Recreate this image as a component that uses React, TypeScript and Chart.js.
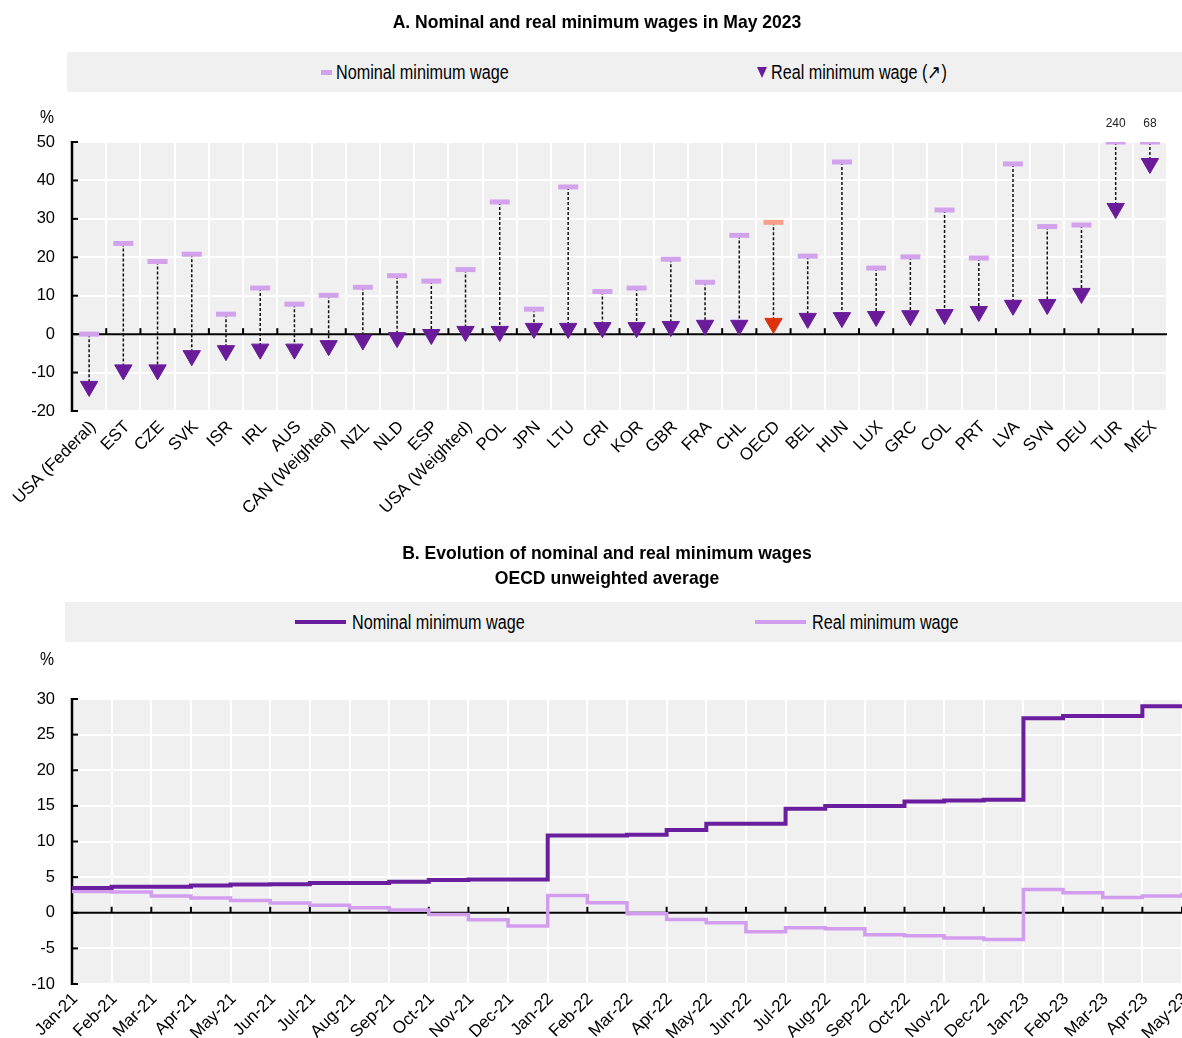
import React, { useEffect, useRef } from "react";
import { Chart, registerables } from "chart.js";
Chart.register(...registerables);

const FONT = "'Liberation Sans', Arial, sans-serif";

// ---------- Panel A data ----------
const countries = ["USA (Federal)", "EST", "CZE", "SVK", "ISR", "IRL", "AUS", "CAN (Weighted)", "NZL", "NLD", "ESP", "USA (Weighted)", "POL", "JPN", "LTU", "CRI", "KOR", "GBR", "FRA", "CHL", "OECD", "BEL", "HUN", "LUX", "GRC", "COL", "PRT", "LVA", "SVN", "DEU", "TUR", "MEX"];
const nominalWage = [0, 23.6, 18.9, 20.8, 5.2, 12.0, 7.8, 10.1, 12.2, 15.2, 13.8, 16.8, 34.4, 6.5, 38.3, 11.1, 12.0, 19.5, 13.5, 25.7, 29.1, 20.3, 44.8, 17.2, 20.1, 32.3, 19.8, 44.3, 28.0, 28.4, 240, 68];
const realWage = [-13.6, -9.3, -9.3, -5.6, -4.3, -3.9, -3.9, -3.0, -1.5, -0.9, -0.1, 0.7, 0.7, 1.5, 1.5, 1.7, 1.7, 2.0, 2.3, 2.3, 2.8, 4.1, 4.3, 4.6, 4.8, 5.1, 5.9, 7.5, 7.7, 10.6, 32.7, 44.4];
const yMinA = -20;
const yMaxA = 50;
const yStepA = 10;

// ---------- Panel B data ----------
const months = ["Jan-21", "Feb-21", "Mar-21", "Apr-21", "May-21", "Jun-21", "Jul-21", "Aug-21", "Sep-21", "Oct-21", "Nov-21", "Dec-21", "Jan-22", "Feb-22", "Mar-22", "Apr-22", "May-22", "Jun-22", "Jul-22", "Aug-22", "Sep-22", "Oct-22", "Nov-22", "Dec-22", "Jan-23", "Feb-23", "Mar-23", "Apr-23", "May-23"];
const nominalAvg = [3.46, 3.64, 3.64, 3.83, 3.97, 4.0, 4.16, 4.16, 4.35, 4.58, 4.67, 4.67, 10.84, 10.84, 10.93, 11.6, 12.5, 12.5, 14.6, 15.0, 15.0, 15.6, 15.75, 15.85, 27.3, 27.6, 27.6, 29.0, 29.0];
const realAvg = [3.0, 2.9, 2.34, 2.06, 1.73, 1.36, 1.07, 0.7, 0.4, -0.23, -0.98, -1.87, 2.43, 1.4, -0.14, -0.93, -1.4, -2.66, -2.1, -2.24, -3.08, -3.22, -3.55, -3.74, 3.27, 2.8, 2.15, 2.34, 2.8];
const yMinB = -10;
const yMaxB = 30;
const yStepB = 5;

// ---------- colours ----------
const NOM_COLOR = "#d3a2ec";
const NOM_OECD = "#f6a08a";
const REAL_COLOR = "#6a1b9a";
const REAL_OECD = "#de320c";
const LINE_NOM = "#6a1e9e";
const LINE_REAL = "#d29dee";
const BG = "#f0f0f0";

const bgPlugin = {
  id: "bgPlugin",
  beforeDraw(chart: any) {
    const { ctx, chartArea: a } = chart;
    ctx.save();
    ctx.fillStyle = BG;
    ctx.fillRect(a.left, a.top, a.right - a.left, a.bottom - a.top);
    ctx.restore();
  },
};

function seg(ctx: CanvasRenderingContext2D, x1: number, y1: number, x2: number, y2: number) {
  ctx.beginPath();
  ctx.moveTo(x1, y1);
  ctx.lineTo(x2, y2);
  ctx.stroke();
}

function drawAxes(chart: any, boundaries: boolean) {
  const { ctx, chartArea: a, scales } = chart;
  const x = scales.x;
  const y = scales.y;
  ctx.save();
  ctx.strokeStyle = "#000";
  const y0 = y.getPixelForValue(0);
  ctx.lineWidth = 2;
  seg(ctx, a.left, y0, a.right, y0);
  const n = chart.data.labels.length;
  for (let i = 1; i < n; i++) {
    const bx = boundaries ? (x.getPixelForTick(i - 1) + x.getPixelForTick(i)) / 2 : x.getPixelForTick(i);
    seg(ctx, bx, y0, bx, y0 - 6);
  }
  ctx.lineWidth = 2.5;
  seg(ctx, a.left, a.top - 1, a.left, a.bottom + 1);
  ctx.lineWidth = 2;
  y.ticks.forEach((_t: any, i: number) => {
    const py = y.getPixelForTick(i);
    seg(ctx, a.left, py, a.left + 6, py);
  });
  ctx.restore();
}

const panelAPlugin = {
  id: "panelA",
  beforeDatasetsDraw(chart: any) {
    drawAxes(chart, true);
    const { ctx } = chart;
    const m0 = chart.getDatasetMeta(0);
    const m1 = chart.getDatasetMeta(1);
    ctx.save();
    ctx.strokeStyle = "#111";
    ctx.lineWidth = 1.5;
    ctx.setLineDash([3, 2]);
    m0.data.forEach((p: any, i: number) => {
      const q = m1.data[i];
      seg(ctx, p.x, p.y, q.x, q.y);
    });
    ctx.restore();
  },
  afterDatasetsDraw(chart: any) {
    const { ctx, scales } = chart;
    ctx.save();
    ctx.fillStyle = "#222";
    ctx.font = `12px ${FONT}`;
    ctx.textAlign = "center";
    ctx.textBaseline = "middle";
    nominalWage.forEach((v, i) => {
      if (v > yMaxA) {
        const px = scales.x.getPixelForValue(i);
        const py = scales.y.getPixelForValue(yMaxA) - 18;
        ctx.fillText(String(v), px, py);
      }
    });
    ctx.restore();
  },
};

const panelBPlugin = {
  id: "panelB",
  beforeDatasetsDraw(chart: any) {
    drawAxes(chart, false);
  },
};

function PanelA() {
  const ref = useRef<HTMLCanvasElement>(null);
  useEffect(() => {
    const clipped = nominalWage.map((v) => Math.min(v, yMaxA));
    const nomColors = countries.map((c) => (c === "OECD" ? NOM_OECD : NOM_COLOR));
    const realColors = countries.map((c) => (c === "OECD" ? REAL_OECD : REAL_COLOR));
    const chart = new Chart(ref.current as HTMLCanvasElement, {
      type: "line",
      data: {
        labels: countries,
        datasets: [
          {
            label: "Nominal minimum wage",
            data: clipped,
            showLine: false,
            pointStyle: "line",
            pointRadius: 10,
            pointBorderWidth: 5,
            pointBorderColor: nomColors,
            pointBackgroundColor: nomColors,
          },
          {
            label: "Real minimum wage (↗)",
            data: realWage,
            showLine: false,
            pointStyle: "triangle",
            pointRotation: 180,
            pointRadius: 10,
            pointBorderWidth: 1,
            pointBorderColor: realColors,
            pointBackgroundColor: realColors,
          },
        ],
      },
      options: {
        animation: false,
        responsive: false,
        events: [],
        layout: { padding: { top: 142, left: 0, right: 0, bottom: 0 } },
        plugins: { legend: { display: false }, title: { display: false }, tooltip: { enabled: false } },
        scales: {
          x: {
            offset: true,
            grid: { offset: true, color: "#ffffff", lineWidth: 2, drawTicks: false },
            border: { display: false },
            ticks: { autoSkip: false, minRotation: 45, maxRotation: 45, padding: 6, labelOffset: 4, color: "#000", font: { family: FONT, size: 17 } },
            afterFit: (s: any) => {
              s.height = 109;
              s.paddingLeft = 0;
              s.paddingRight = 0;
            },
          },
          y: {
            min: yMinA,
            max: yMaxA,
            ticks: { stepSize: yStepA, padding: 17, color: "#000", font: { family: FONT, size: 16.5 } },
            grid: { color: "#ffffff", lineWidth: 2, drawTicks: false },
            border: { display: false },
            afterFit: (s: any) => {
              s.width = 72;
            },
          },
        },
      } as any,
      plugins: [bgPlugin, panelAPlugin],
    });
    return () => chart.destroy();
  }, []);
  return <canvas ref={ref} width={1182} height={520} style={{ position: "absolute", left: 0, top: 0 }} />;
}

function PanelB() {
  const ref = useRef<HTMLCanvasElement>(null);
  useEffect(() => {
    const chart = new Chart(ref.current as HTMLCanvasElement, {
      type: "line",
      data: {
        labels: months,
        datasets: [
          {
            label: "Nominal minimum wage",
            data: nominalAvg,
            stepped: true,
            borderColor: LINE_NOM,
            borderWidth: 4,
            pointRadius: 0,
            fill: false,
          },
          {
            label: "Real minimum wage",
            data: realAvg,
            stepped: true,
            borderColor: LINE_REAL,
            borderWidth: 3.5,
            pointRadius: 0,
            fill: false,
          },
        ],
      },
      options: {
        animation: false,
        responsive: false,
        events: [],
        layout: { padding: { top: 169, left: 0, right: 0, bottom: 0 } },
        plugins: { legend: { display: false }, title: { display: false }, tooltip: { enabled: false } },
        scales: {
          x: {
            offset: false,
            grid: { color: "#ffffff", lineWidth: 2, drawTicks: false },
            border: { display: false },
            ticks: { autoSkip: false, minRotation: 45, maxRotation: 45, padding: 5, labelOffset: 3, color: "#000", font: { family: FONT, size: 17 } },
            afterFit: (s: any) => {
              s.height = 54;
              s.paddingLeft = 0;
              s.paddingRight = 0;
            },
          },
          y: {
            min: yMinB,
            max: yMaxB,
            ticks: { stepSize: yStepB, padding: 17, color: "#000", font: { family: FONT, size: 16.5 } },
            grid: { color: "#ffffff", lineWidth: 2, drawTicks: false },
            border: { display: false },
            afterFit: (s: any) => {
              s.width = 72;
            },
          },
        },
      } as any,
      plugins: [bgPlugin, panelBPlugin],
    });
    return () => chart.destroy();
  }, []);
  return <canvas ref={ref} width={1182} height={508} style={{ position: "absolute", left: 0, top: 530 }} />;
}

// Centered, horizontally condensed bold title line
function Title({ cx, top, k, children }: { cx: number; top: number; k: number; children: React.ReactNode }) {
  return (
    <div
      style={{
        position: "absolute",
        left: cx,
        top,
        fontFamily: FONT,
        fontSize: 18.6,
        fontWeight: "bold",
        lineHeight: "24px",
        whiteSpace: "nowrap",
        color: "#000",
        transform: `translateX(-50%) scaleX(${k})`,
        transformOrigin: "50% 50%",
      }}
    >
      {children}
    </div>
  );
}

// Left-aligned, horizontally condensed text
function NarrowText({ left, top, size = 19.5, children }: { left: number; top: number; size?: number; children: React.ReactNode }) {
  return (
    <div
      style={{
        position: "absolute",
        left,
        top,
        fontFamily: FONT,
        fontSize: size,
        lineHeight: "24px",
        whiteSpace: "nowrap",
        color: "#000",
        transform: "scaleX(0.83)",
        transformOrigin: "0 50%",
      }}
    >
      {children}
    </div>
  );
}

export default function App() {
  return (
    <div style={{ position: "absolute", left: 0, top: 0, width: 1182, height: 1038, background: "#fff", overflow: "hidden" }}>
      <PanelA />
      <PanelB />
      {/* Panel A title & legend */}
      <Title cx={596.5} top={10} k={0.944}>A. Nominal and real minimum wages in May 2023</Title>
      <div style={{ position: "absolute", left: 67, top: 52, width: 1115, height: 40, background: BG }} />
      <div style={{ position: "absolute", left: 321, top: 70, width: 11, height: 5, background: NOM_COLOR }} />
      <NarrowText left={336} top={60}>Nominal minimum wage</NarrowText>
      <div style={{ position: "absolute", left: 757, top: 67, width: 0, height: 0, borderLeft: "5px solid transparent", borderRight: "5px solid transparent", borderTop: "11px solid " + REAL_COLOR }} />
      <NarrowText left={771} top={60}>Real minimum wage (↗)</NarrowText>
      <NarrowText left={40} top={105} size={19}>%</NarrowText>
      {/* Panel B title & legend */}
      <Title cx={606.5} top={541} k={0.944}>B. Evolution of nominal and real minimum wages</Title>
      <Title cx={607} top={566} k={0.944}>OECD unweighted average</Title>
      <div style={{ position: "absolute", left: 65, top: 602, width: 1117, height: 40, background: BG }} />
      <div style={{ position: "absolute", left: 295, top: 620, width: 51, height: 4, background: LINE_NOM }} />
      <NarrowText left={352} top={610}>Nominal minimum wage</NarrowText>
      <div style={{ position: "absolute", left: 755, top: 620, width: 51, height: 4, background: LINE_REAL }} />
      <NarrowText left={812} top={610}>Real minimum wage</NarrowText>
      <NarrowText left={40} top={647} size={19}>%</NarrowText>
    </div>
  );
}
